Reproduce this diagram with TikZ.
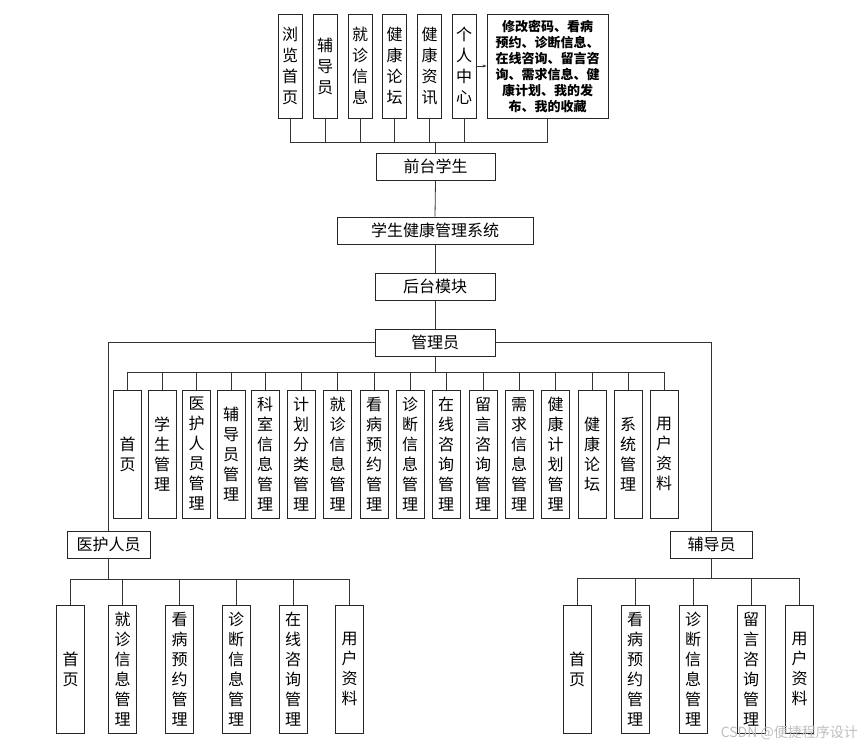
\documentclass[tikz,border=0pt]{standalone}
\usepackage{fontspec}
\newfontfamily\cjk{Noto Sans CJK SC}
\usetikzlibrary{arrows.meta}
\begin{document}
\begin{tikzpicture}[x=1pt,y=-1pt,
  box/.style={draw=black!85, line width=0.9pt, inner sep=0pt, align=center, font=\cjk\fontsize{16}{20}\selectfont},
  tbox/.style={box, minimum width=24pt, minimum height=104pt, font=\cjk\fontsize{16}{21}\selectfont},
  hbox/.style={box, minimum height=27pt},
  vbox/.style={box, minimum width=28pt, minimum height=128pt},
  conn/.style={draw=black!80, line width=0.8pt}]
\useasboundingbox[fill=white] (0,0) rectangle (861,749);

% top row
\node[tbox] (t1) at (290,66) {浏\\览\\首\\页};
\node[tbox] (t2) at (325,66) {辅\\导\\员};
\node[tbox] (t3) at (360,66) {就\\诊\\信\\息};
\node[tbox] (t4) at (394.5,66) {健\\康\\论\\坛};
\node[tbox] (t5) at (429.5,66) {健\\康\\资\\讯};
\node[tbox] (t6) at (464,66) {个\\人\\中\\心};
\node[box, minimum width=121pt, minimum height=104pt, font=\cjk\bfseries\fontsize{13}{16}\selectfont] (big) at (547.5,66)
  {修改密码、看病\\预约、诊断信息、\\在线咨询、留言咨\\询、需求信息、健\\康计划、我的发\\布、我的收藏};
\draw[conn, line width=0.6pt, -{Stealth[length=4pt,width=3pt]}] (t6.east) -- (big.west);

\node[hbox, minimum width=119pt] (front) at (435.5,166.5) {前台学生};
\coordinate (topbus) at (435.5,142);
\foreach \n in {t1,t2,t3,t4,t5,t6,big} {\draw[conn] (\n.south) |- (topbus);}
\draw[conn] (topbus) -- (front.north);

\node[hbox, minimum width=196pt] (sys) at (435,230.5) {学生健康管理系统};
\node[hbox, minimum width=120pt] (back) at (435,286.5) {后台模块};
\node[hbox, minimum width=120pt] (adm) at (435,342.5) {管理员};
\draw[conn] (front.south) -- (sys.north);
\draw[conn] (sys.south) -- (back.north);
\draw[conn] (back.south) -- (adm.north);

% admin children
\coordinate (abus) at (435,372);
\draw[conn] (adm.south) -- (abus);
\foreach \i/\x/\t in {1/127.5/首\\页, 2/162/学\\生\\管\\理, 3/196.5/医\\护\\人\\员\\管\\理, 4/231/辅\\导\\员\\管\\理,
  5/265/科\\室\\信\\息\\管\\理, 6/301/计\\划\\分\\类\\管\\理, 7/337.5/就\\诊\\信\\息\\管\\理, 8/374/看\\病\\预\\约\\管\\理,
  9/410/诊\\断\\信\\息\\管\\理, 10/446/在\\线\\咨\\询\\管\\理, 11/483/留\\言\\咨\\询\\管\\理, 12/519/需\\求\\信\\息\\管\\理,
  13/555.5/健\\康\\计\\划\\管\\理, 14/592/健\\康\\论\\坛, 15/628/系\\统\\管\\理, 16/664/用\\户\\资\\料} {
  \node[vbox] (a\i) at (\x,454) {\t};
  \draw[conn] (a\i.north) |- (abus);
}

% medical staff
\node[hbox, minimum width=83pt] (yh) at (108.5,544.5) {医护人员};
\draw[conn] (adm.west) -| (yh.north);
\coordinate (ybus) at (108.5,579);
\draw[conn] (yh.south) -- (ybus);
\foreach \i/\x/\t in {1/70.5/首\\页, 2/122.5/就\\诊\\信\\息\\管\\理, 3/179.5/看\\病\\预\\约\\管\\理,
  4/236/诊\\断\\信\\息\\管\\理, 5/293/在\\线\\咨\\询\\管\\理, 6/349.5/用\\户\\资\\料} {
  \node[vbox] (m\i) at (\x,669) {\t};
  \draw[conn] (m\i.north) |- (ybus);
}

% counselor
\node[hbox, minimum width=82pt] (fd) at (711.5,544.5) {辅导员};
\draw[conn] (adm.east) -| (fd.north);
\coordinate (fbus) at (711.5,578);
\draw[conn] (fd.south) -- (fbus);
\foreach \i/\x/\t in {1/577/首\\页, 2/635/看\\病\\预\\约\\管\\理, 3/693/诊\\断\\信\\息\\管\\理,
  4/751/留\\言\\咨\\询\\管\\理, 5/799.5/用\\户\\资\\料} {
  \node[vbox] (f\i) at (\x,669) {\t};
  \draw[conn] (f\i.north) |- (fbus);
}

\node[anchor=east, text=black!25, font=\cjk\fontsize{14}{16}\selectfont, inner sep=0pt] (wm) at (858,733) {CSDN @便捷程序设计};
\end{tikzpicture}
\end{document}
